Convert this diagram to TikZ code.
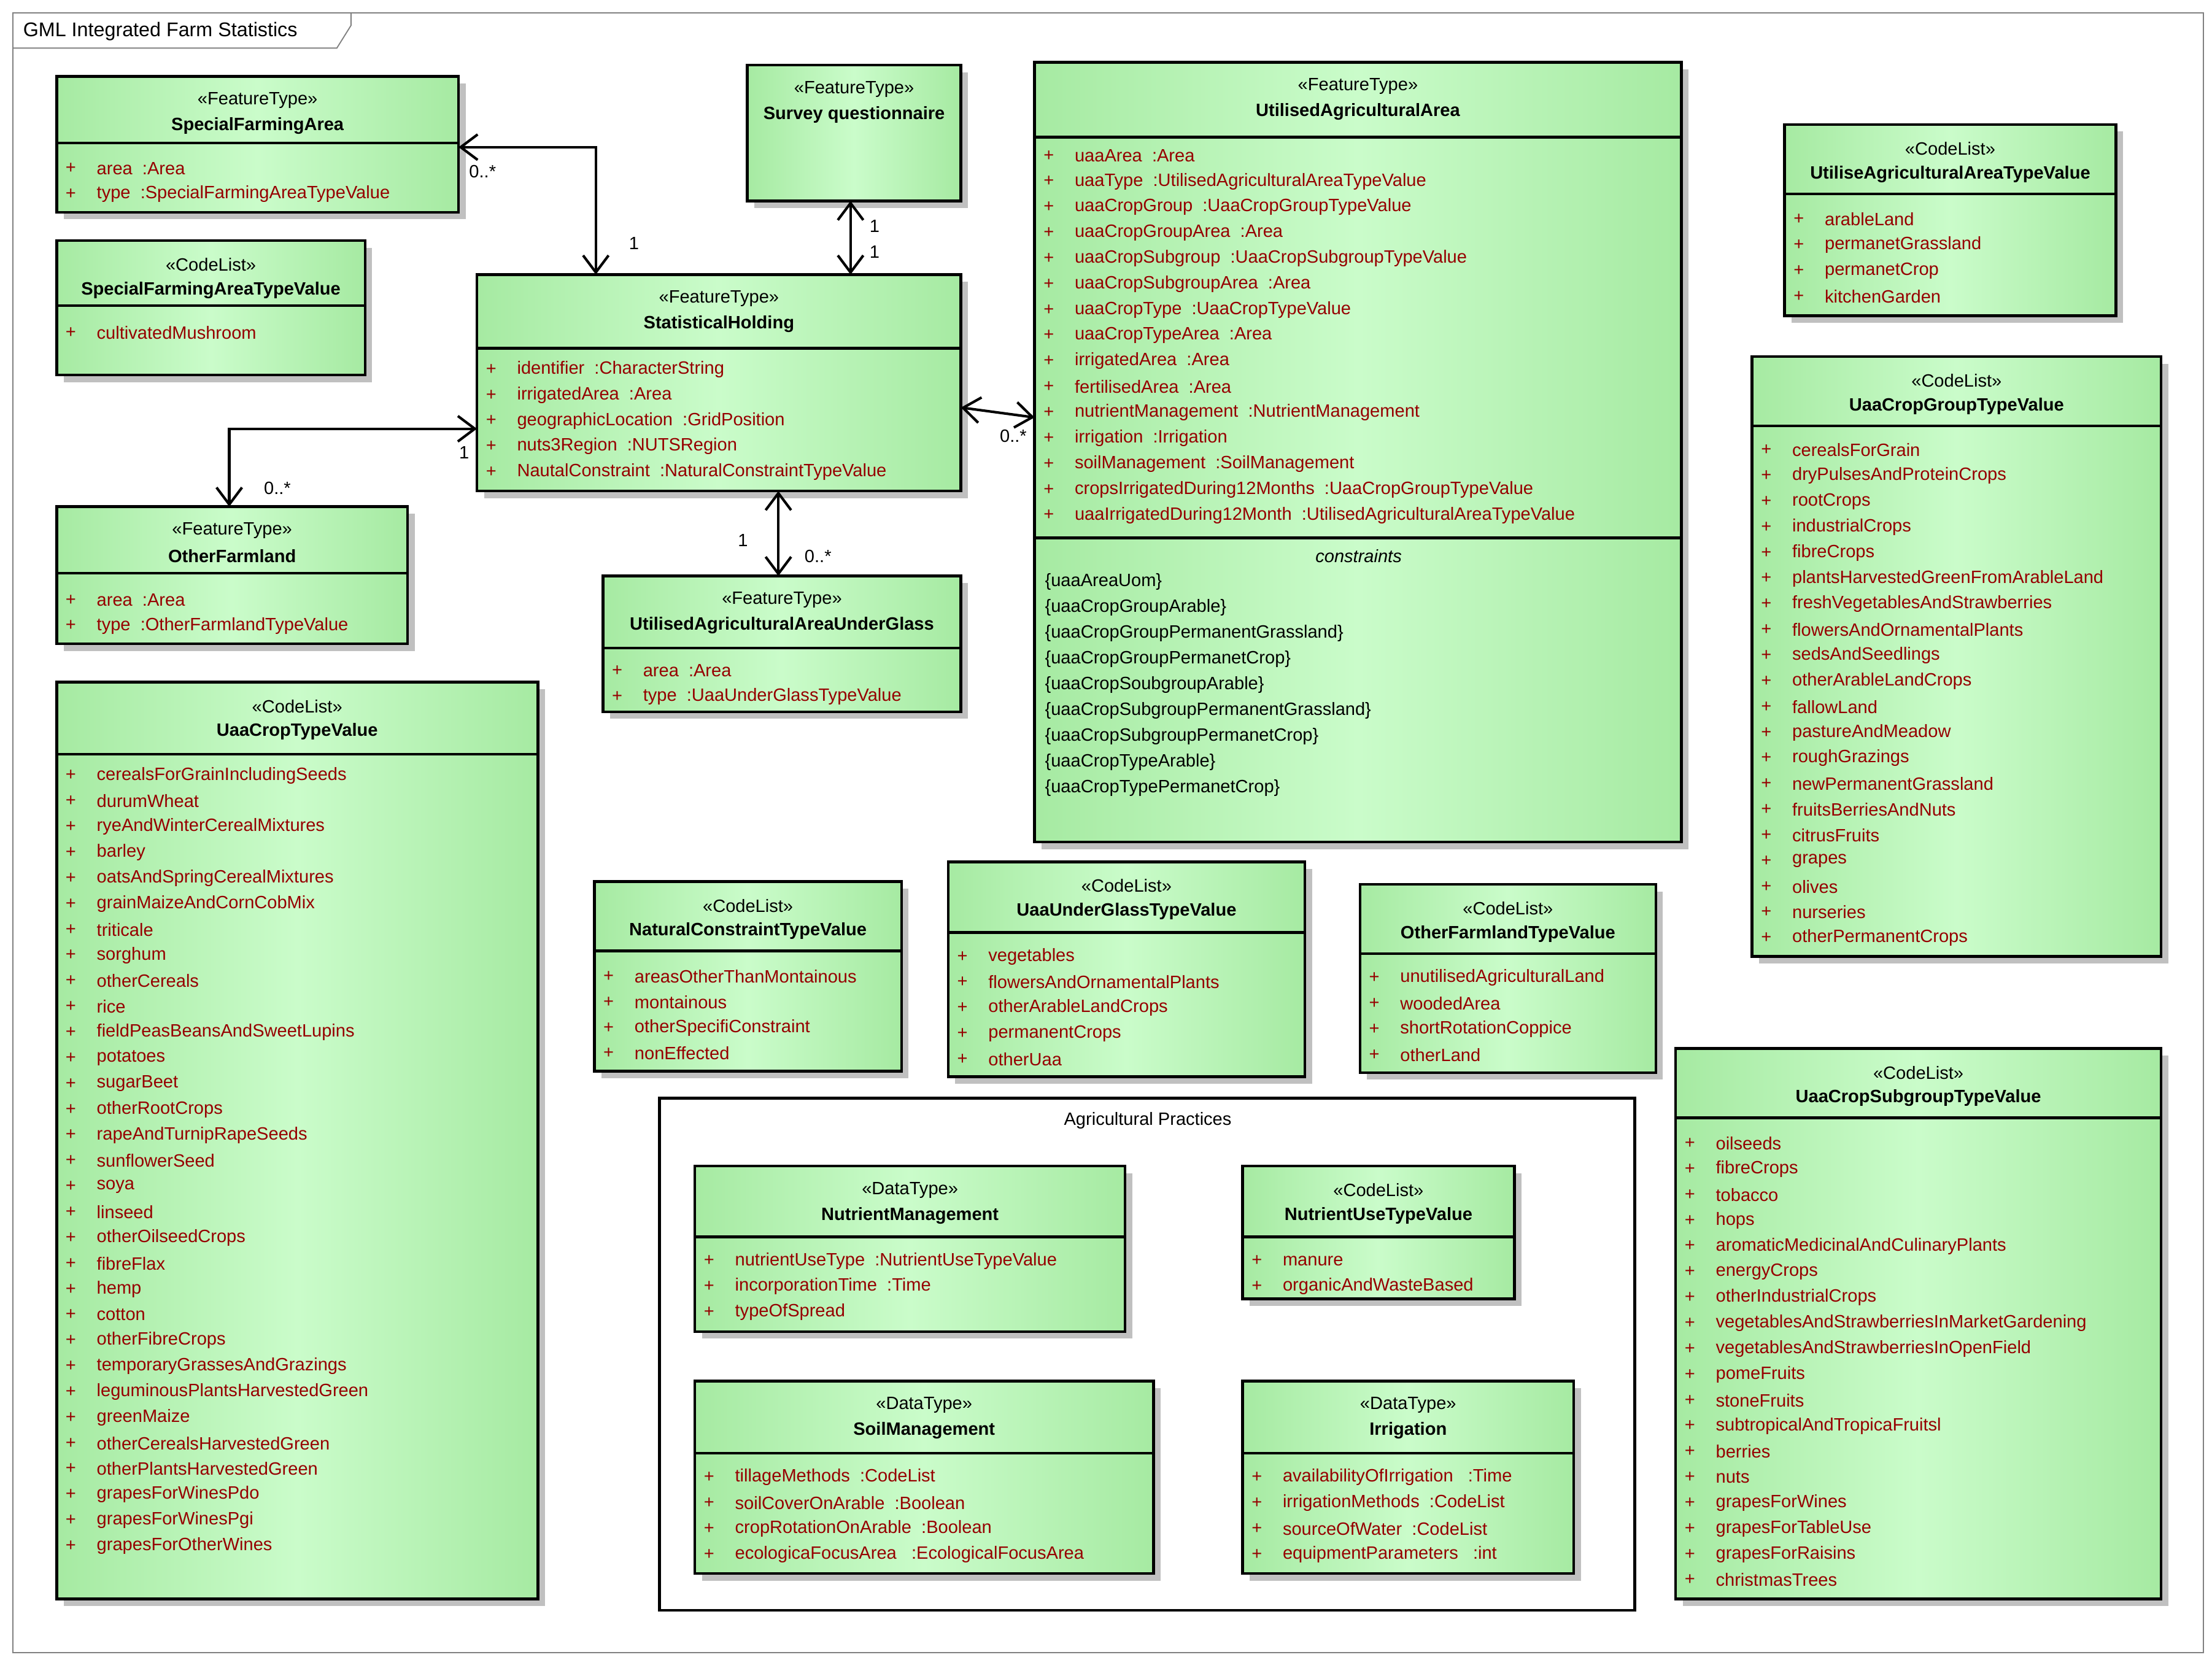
\documentclass[tikz,border=0pt]{standalone}
\usepackage{fontspec}
\setmainfont{Liberation Sans}
\usetikzlibrary{arrows.meta,shadows}
\definecolor{gA}{RGB}{166,234,162}
\definecolor{gB}{RGB}{202,252,202}
\definecolor{tr}{RGB}{150,0,0}
\definecolor{sh}{RGB}{192,192,192}
\newcommand\ft{\fontsize{6.3}{7}\selectfont}
\tikzset{
 box/.style={draw,line width=1pt,inner sep=0,outer sep=0,left color=gA,right color=gA,middle color=gB,
   drop shadow={shadow xshift=2.5pt,shadow yshift=-2.5pt,fill=sh,opacity=1}},
 assoc/.style={line width=0.9pt,{Straight Barb[length=6pt,width=9pt]}-{Straight Barb[length=6pt,width=9pt]}},
 lbl/.style={font=\ft,inner sep=0},
 attr/.style={font=\ft,text=tr,anchor=west,inner sep=0},
}
\newcommand\cls[8]{%
 \node[box,minimum width={(#4-#2)*0.5pt},minimum height={(#5-#3)*0.5pt}] (#1) at ({(#2+#4)/2},{(#3+#5)/2}) {};
 \ifx&#6&\else\draw[line width=1pt] (#2,#6) -- (#4,#6);\fi
 \node[lbl] at ({(#2+#4)/2},#3+17) {«#7»};
 \node[lbl,font=\ft\bfseries] at ({(#2+#4)/2},#3+35) {#8};}
\newcommand\attrs[3]{%
 \foreach \t [count=\i from 0] in {#3} {
  \node[attr] at (#1+6,#2+\i*18.15) {+};
  \node[attr] at (#1+28,#2+\i*18.15) {\t};}}
\begin{document}
\begin{tikzpicture}[x=0.5pt,y=-0.5pt]
\useasboundingbox (0,0) rectangle (1563,1172.7);
\draw[line width=0.4pt,gray] (9,9) rectangle (1557,1168);
\draw[line width=0.4pt,gray] (9,34) -- (238,34) -- (248,18) -- (248,9);
\node[lbl,anchor=west,font=\fontsize{7}{8}\selectfont] at (16,22) {GML Integrated Farm Statistics};

\cls{SFA}{40}{54}{324}{150}{101}{FeatureType}{SpecialFarmingArea}
\attrs{40}{119}{area~~:Area,type~~:SpecialFarmingAreaTypeValue}
\cls{SFATV}{40}{170}{258}{265}{216}{CodeList}{SpecialFarmingAreaTypeValue}
\attrs{40}{235}{cultivatedMushroom}
\cls{SQ}{528}{46}{679}{142}{}{FeatureType}{Survey questionnaire}
\cls{UAA}{731}{44}{1188}{595}{97}{FeatureType}{UtilisedAgriculturalArea}
\draw[line width=1pt] (731,380) -- (1188,380);
\attrs{731}{110}{uaaArea~~:Area,uaaType~~:UtilisedAgriculturalAreaTypeValue,uaaCropGroup~~:UaaCropGroupTypeValue,uaaCropGroupArea~~:Area,uaaCropSubgroup~~:UaaCropSubgroupTypeValue,uaaCropSubgroupArea~~:Area,uaaCropType~~:UaaCropTypeValue,uaaCropTypeArea~~:Area,irrigatedArea~~:Area,fertilisedArea~~:Area,nutrientManagement~~:NutrientManagement,irrigation~~:Irrigation,soilManagement~~:SoilManagement,cropsIrrigatedDuring12Months~~:UaaCropGroupTypeValue,uaaIrrigatedDuring12Month~~:UtilisedAgriculturalAreaTypeValue}
\node[lbl,font=\ft\itshape] at (960,393) {constraints};
\foreach \t [count=\i from 0] in {uaaAreaUom,uaaCropGroupArable,uaaCropGroupPermanentGrassland,uaaCropGroupPermanetCrop,uaaCropSoubgroupArable,uaaCropSubgroupPermanentGrassland,uaaCropSubgroupPermanetCrop,uaaCropTypeArable,uaaCropTypePermanetCrop}
  \node[lbl,anchor=west] at (738,411+\i*18.25) {\{\t\}};
\cls{UATV}{1261}{88}{1495}{223}{137}{CodeList}{UtiliseAgriculturalAreaTypeValue}
\attrs{1261}{155}{arableLand,permanetGrassland,permanetCrop,kitchenGarden}
\cls{SH}{337}{194}{679}{347}{246}{FeatureType}{StatisticalHolding}
\attrs{337}{261}{identifier~~:CharacterString,irrigatedArea~~:Area,geographicLocation~~:GridPosition,nuts3Region~~:NUTSRegion,NautalConstraint~~:NaturalConstraintTypeValue}
\cls{OF}{40}{358}{288}{455}{405}{FeatureType}{OtherFarmland}
\attrs{40}{424}{area~~:Area,type~~:OtherFarmlandTypeValue}
\cls{UG}{426}{407}{679}{503}{458}{FeatureType}{UtilisedAgriculturalAreaUnderGlass}
\attrs{426}{474}{area~~:Area,type~~:UaaUnderGlassTypeValue}
\cls{UCG}{1238}{252}{1527}{676}{301}{CodeList}{UaaCropGroupTypeValue}
\attrs{1238}{318}{cerealsForGrain,dryPulsesAndProteinCrops,rootCrops,industrialCrops,fibreCrops,plantsHarvestedGreenFromArableLand,freshVegetablesAndStrawberries,flowersAndOrnamentalPlants,sedsAndSeedlings,otherArableLandCrops,fallowLand,pastureAndMeadow,roughGrazings,newPermanentGrassland,fruitsBerriesAndNuts,citrusFruits,grapes,olives,nurseries,otherPermanentCrops}
\cls{UCT}{40}{482}{380}{1130}{533}{CodeList}{UaaCropTypeValue}
\attrs{40}{548}{cerealsForGrainIncludingSeeds,durumWheat,ryeAndWinterCerealMixtures,barley,oatsAndSpringCerealMixtures,grainMaizeAndCornCobMix,triticale,sorghum,otherCereals,rice,fieldPeasBeansAndSweetLupins,potatoes,sugarBeet,otherRootCrops,rapeAndTurnipRapeSeeds,sunflowerSeed,soya,linseed,otherOilseedCrops,fibreFlax,hemp,cotton,otherFibreCrops,temporaryGrassesAndGrazings,leguminousPlantsHarvestedGreen,greenMaize,otherCerealsHarvestedGreen,otherPlantsHarvestedGreen,grapesForWinesPdo,grapesForWinesPgi,grapesForOtherWines}
\cls{NC}{420}{623}{637}{757}{672}{CodeList}{NaturalConstraintTypeValue}
\attrs{420}{690}{areasOtherThanMontainous,montainous,otherSpecifiConstraint,nonEffected}
\cls{UUG}{670}{609}{922}{761}{659}{CodeList}{UaaUnderGlassTypeValue}
\attrs{670}{676}{vegetables,flowersAndOrnamentalPlants,otherArableLandCrops,permanentCrops,otherUaa}
\cls{OFT}{961}{625}{1170}{758}{674}{CodeList}{OtherFarmlandTypeValue}
\attrs{961}{691}{unutilisedAgriculturalLand,woodedArea,shortRotationCoppice,otherLand}
\draw[line width=1pt] (466,776) rectangle (1155,1138);
\node[lbl] at (811,792) {Agricultural Practices};
\cls{NM}{491}{824}{795}{941}{874}{DataType}{NutrientManagement}
\attrs{491}{891}{nutrientUseType~~:NutrientUseTypeValue,incorporationTime~~:Time,typeOfSpread}
\cls{NU}{878}{824}{1070}{918}{874}{CodeList}{NutrientUseTypeValue}
\attrs{878}{891}{manure,organicAndWasteBased}
\cls{SM}{491}{976}{815}{1112}{1027}{DataType}{SoilManagement}
\attrs{491}{1044}{tillageMethods~~:CodeList,soilCoverOnArable~~:Boolean,cropRotationOnArable~~:Boolean,ecologicaFocusArea~~~:EcologicalFocusArea}
\cls{IR}{878}{976}{1112}{1112}{1027}{DataType}{Irrigation}
\attrs{878}{1044}{availabilityOfIrrigation~~~:Time,irrigationMethods~~:CodeList,sourceOfWater~~:CodeList,equipmentParameters~~~:int}
\cls{UCS}{1184}{741}{1527}{1130}{790}{CodeList}{UaaCropSubgroupTypeValue}
\attrs{1184}{808}{oilseeds,fibreCrops,tobacco,hops,aromaticMedicinalAndCulinaryPlants,energyCrops,otherIndustrialCrops,vegetablesAndStrawberriesInMarketGardening,vegetablesAndStrawberriesInOpenField,pomeFruits,stoneFruits,subtropicalAndTropicaFruitsl,berries,nuts,grapesForWines,grapesForTableUse,grapesForRaisins,christmasTrees}

% connectors
\draw[assoc] (421,0 |- SH.north) |- (SFA.east |- 0,104);
\node[lbl] at (341,121) {0..*};
\node[lbl] at (448,172) {1};
\draw[assoc] (601,0 |- SH.north) -- (601,0 |- SQ.south);
\node[lbl] at (618,160) {1};
\node[lbl] at (618,178) {1};
\draw[assoc] (SH.west |- 0,303) -| (162,0 |- OF.north);
\node[lbl] at (328,320) {1};
\node[lbl] at (196,345) {0..*};
\draw[assoc] (550,0 |- SH.south) -- (550,0 |- UG.north);
\node[lbl] at (525,382) {1};
\node[lbl] at (578,393) {0..*};
\draw[assoc] (SH.east |- 0,288) -- (UAA.west |- 0,295);
\node[lbl] at (716,308) {0..*};
\end{tikzpicture}
\end{document}
